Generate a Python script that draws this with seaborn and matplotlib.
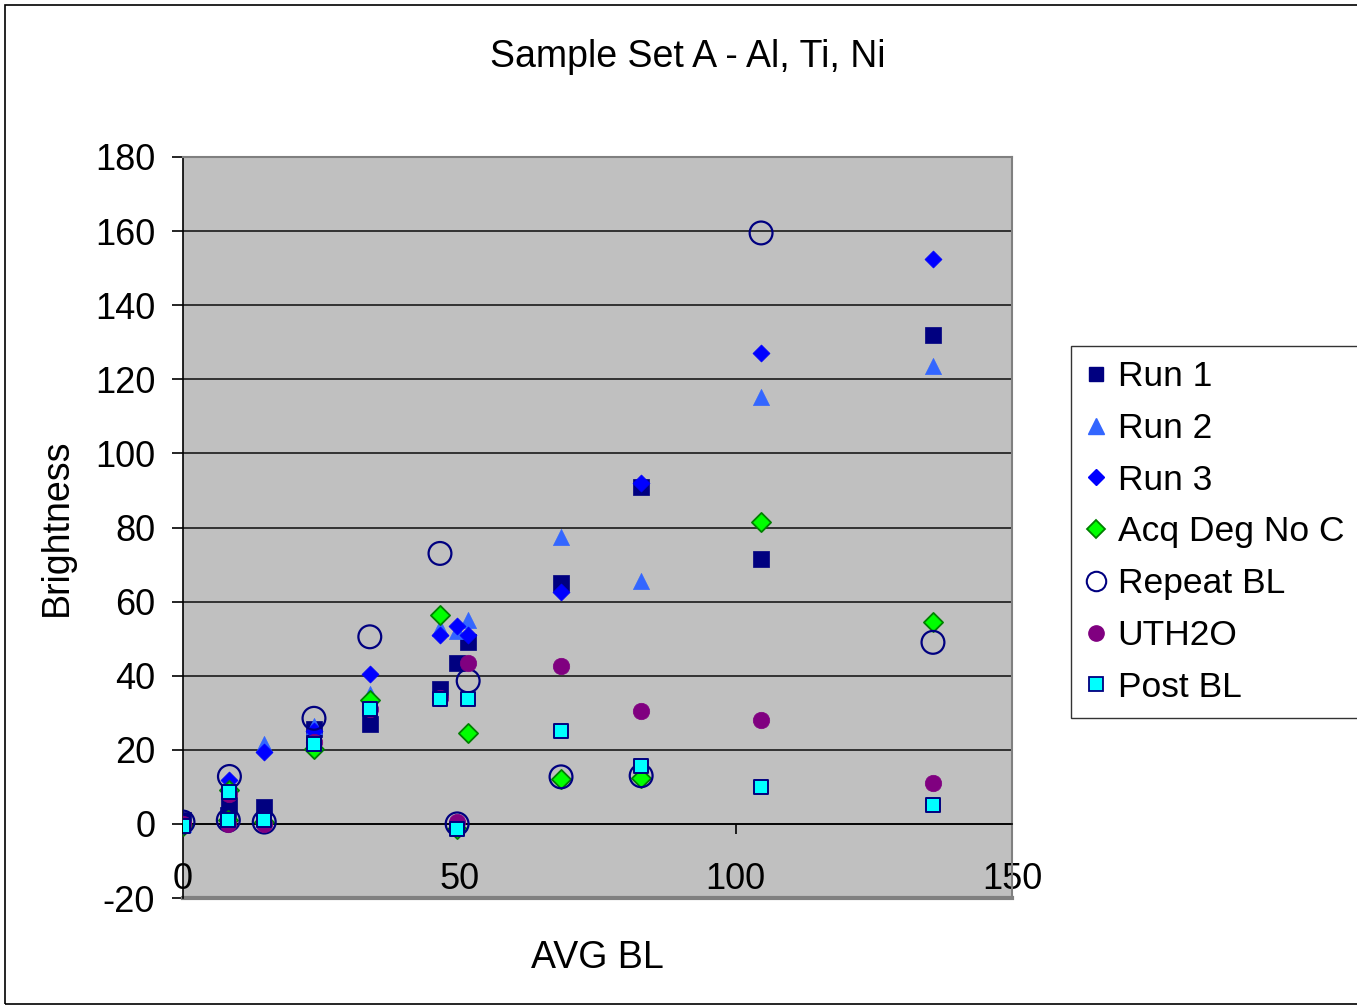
import numpy as np
import pandas as pd
import matplotlib
matplotlib.use("Agg")
import matplotlib.pyplot as plt
import seaborn as sns
from matplotlib.patches import Rectangle
from matplotlib.lines import Line2D

# ---- data ----
avg_bl   = [0, 8.2, 8.4, 14.7, 23.7, 33.8, 46.5, 49.6, 51.6, 68.4, 82.9, 104.6, 135.7]
run1     = [1.0, 2.5, 5.0, 4.5, 25.5, 27.0, 36.5, 43.5, 49.2, 65.0, 91.0, 71.5, 132.0]
run2     = [0.0, 1.0, 11.0, 21.5, 26.5, 35.0, 53.0, 52.0, 55.0, 77.5, 65.5, 115.3, 123.5]
run3     = [0.0, 1.0, 11.8, 19.5, 25.0, 40.5, 51.0, 53.5, 51.0, 62.5, 92.0, 127.0, 152.5]
acq_deg  = [-0.5, 1.0, 9.2, 0.5, 20.2, 33.5, 56.5, -1.5, 24.5, 12.0, 12.5, 81.6, 54.6]
repeat_bl = [0.5, 1.0, 12.8, 0.5, 28.5, 50.5, 73.0, 0.0, 38.6, 12.7, 13.0, 159.5, 49.0]
uth2o    = [0.0, 0.0, 8.0, 0.0, 22.0, 31.0, 34.0, 0.5, 43.5, 42.5, 30.5, 28.0, 11.0]
post_bl  = [-0.5, 1.0, 8.6, 1.0, 21.6, 31.0, 33.7, -1.3, 33.7, 25.0, 15.5, 10.0, 5.0]

labels = ["Run 1", "Run 2", "Run 3", "Acq Deg No C", "Repeat BL", "UTH2O", "Post BL"]
x_ticks = [0, 50, 100, 150]
y_ticks = list(range(-20, 181, 20))

W, H = 1357, 1008
fig = plt.figure(figsize=(W / 100, H / 100), dpi=100)
plt.rcParams["font.family"] = ["Liberation Sans", "DejaVu Sans"]

ax = fig.add_axes([183 / W, 1 - 898 / H, (1012 - 183) / W, (898 - 157) / H])
ax.set_facecolor("#C0C0C0")

series = [
    (run1, dict(marker="s", s=125, color="#000080", edgecolor="#000080", linewidth=0.5)),
    (run2, dict(marker="^", s=135, color="#3366FF", edgecolor="#3366FF", linewidth=0.5)),
    (run3, dict(marker="D", s=75, color="#0000FF", edgecolor="#0000FF", linewidth=0.5)),
    (acq_deg, dict(marker="D", s=95, color="#00FF00", edgecolor="#008000", linewidth=1.3)),
    (repeat_bl, dict(marker="o", s=270, color="#000080", facecolor="none", edgecolor="#000080", linewidth=1.6)),
    (uth2o, dict(marker="o", s=140, color="#800080", edgecolor="#800080", linewidth=0.5)),
    (post_bl, dict(marker="s", s=115, color="#00FFFF", edgecolor="#000080", linewidth=1.4)),
]
for i, (vals, kw) in enumerate(series):
    sns.scatterplot(x=avg_bl, y=vals, ax=ax, legend=False, zorder=3 + i * 0.01, **kw)

ax.set_xlim(0, 150)
ax.set_ylim(-20, 180)
ax.set_xticks(x_ticks)
ax.set_yticks(y_ticks)
ax.set_xticklabels([str(v) for v in x_ticks])
ax.set_yticklabels([str(v) for v in y_ticks])
ax.yaxis.grid(True, color="#1a1a1a", linewidth=1.2)
ax.xaxis.grid(False)
ax.set_axisbelow(True)
ax.set_xlabel("")
ax.set_ylabel("")

ax.spines["bottom"].set_position(("data", 0))
ax.spines["bottom"].set_color("black")
ax.spines["bottom"].set_linewidth(1.2)
ax.spines["left"].set_color("black")
ax.spines["left"].set_linewidth(1.2)
for side in ("top", "right"):
    ax.spines[side].set_color("#808080")
    ax.spines[side].set_linewidth(1.5)
ax.axhline(-20, color="#808080", linewidth=3, clip_on=False, zorder=1)

ax.tick_params(axis="y", direction="out", length=8, width=1.2, pad=12, labelsize=26, colors="black")
ax.tick_params(axis="x", direction="out", length=7.5, width=1.2, pad=20, labelsize=26, colors="black")

fig.text(688 / W, 1 - 57 / H, "Sample Set A - Al, Ti, Ni", ha="center", va="center", fontsize=27)
fig.text(597 / W, 1 - 958 / H, "AVG BL", ha="center", va="center", fontsize=27)
fig.text(57 / W, 1 - 527 / H, "Brightness", ha="center", va="center", fontsize=27, rotation=90)

handles = [
    Line2D([], [], linestyle="none", marker="s", markersize=10, color="#000080", markeredgecolor="#000080"),
    Line2D([], [], linestyle="none", marker="^", markersize=11, color="#3366FF", markeredgecolor="#3366FF"),
    Line2D([], [], linestyle="none", marker="D", markersize=8, color="#0000FF", markeredgecolor="#0000FF"),
    Line2D([], [], linestyle="none", marker="D", markersize=9, color="#00FF00", markeredgecolor="#008000", markeredgewidth=1.3),
    Line2D([], [], linestyle="none", marker="o", markersize=14, markerfacecolor="none", markeredgecolor="#000080", markeredgewidth=1.5),
    Line2D([], [], linestyle="none", marker="o", markersize=11, color="#800080", markeredgecolor="#800080"),
    Line2D([], [], linestyle="none", marker="s", markersize=10, color="#00FFFF", markeredgecolor="#000080", markeredgewidth=1.3),
]
leg = fig.legend(handles, labels, loc="upper left", bbox_to_anchor=(1071 / W, 1 - 346 / H),
                 bbox_transform=fig.transFigure, borderaxespad=0, frameon=True, fancybox=False,
                 edgecolor="black", fontsize=25.5, labelspacing=0.53, handletextpad=0.32,
                 handlelength=0.6, borderpad=0.4)
leg.get_frame().set_linewidth(1.0)

fig.patches.append(Rectangle((5 / W, 4 / H), 1.2, 1 - 9 / H, transform=fig.transFigure,
                             fill=False, edgecolor="black", linewidth=1.2, zorder=0))

fig.savefig("out.png", dpi=100)
